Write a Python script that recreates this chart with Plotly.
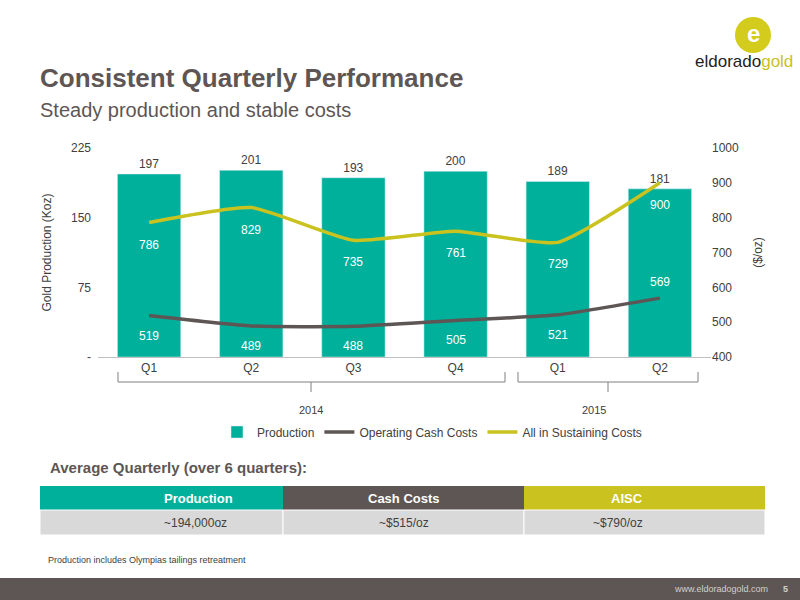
import plotly.graph_objects as go

quarters = ["Q1", "Q2", "Q3", "Q4", "Q1", "Q2"]
keys = ["2014 Q1", "2014 Q2", "2014 Q3", "2014 Q4", "2015 Q1", "2015 Q2"]
production = [197, 201, 193, 200, 189, 181]
cash_costs = [519, 489, 488, 505, 521, 569]
aisc = [786, 829, 735, 761, 729, 900]
years = ["2014", "2015"]
table_head = ["Production", "Cash Costs", "AISC"]
table_vals = ["~194,000oz", "~$515/oz", "~$790/oz"]

TEAL = "#00b09b"
GREY = "#5e5654"
YELLOW = "#c9c21f"
FONT = "Liberation Sans"

fig = go.Figure()
fig.add_trace(go.Bar(x=keys, y=production, name="Production", marker_color=TEAL, width=0.62,
                     text=production, textposition="outside", textfont=dict(color="#404040", size=12),
                     cliponaxis=False))
fig.add_trace(go.Scatter(x=keys, y=cash_costs, name="Operating Cash Costs", yaxis="y2", mode="lines",
                         line=dict(color=GREY, width=3.5, shape="spline", smoothing=0.5)))
fig.add_trace(go.Scatter(x=keys, y=aisc, name="All in Sustaining Costs", yaxis="y2", mode="lines",
                         line=dict(color=YELLOW, width=3.5, shape="spline", smoothing=0.5)))

ann = []
for i, k in enumerate(keys):
    ann.append(dict(x=k, y=aisc[i], yref="y2", text=str(aisc[i]), showarrow=False, yshift=-22,
                    font=dict(color="white", size=12)))
    ys = 16 if i == 5 else -20
    ann.append(dict(x=k, y=cash_costs[i], yref="y2", text=str(cash_costs[i]), showarrow=False, yshift=ys,
                    font=dict(color="white", size=12)))

# year brackets
shapes = []
for x0, x1, xm, yr in [(118, 505, 311, years[0]), (518, 698, 608, years[1])]:
    px0, px1, pm = x0 / 800, x1 / 800, xm / 800
    yb = 1 - 382 / 600
    shapes.append(dict(type="path", xref="paper", yref="paper",
                       path=f"M {px0},{1-372/600} L {px0},{yb} L {px1},{yb} L {px1},{1-372/600} M {pm},{yb} L {pm},{1-392/600}",
                       line=dict(color="#808080", width=1)))
    ann.append(dict(x=pm, y=1 - 410 / 600, xref="paper", yref="paper", text=yr, showarrow=False,
                    yanchor="middle", font=dict(size=11, color="#404040")))

# table
cols = [(40, 283, TEAL), (283, 524, GREY), (524, 765, YELLOW)]
for (x0, x1, c), h, v in zip(cols, table_head, table_vals):
    shapes.append(dict(type="rect", xref="paper", yref="paper", x0=x0 / 800, x1=x1 / 800,
                       y0=1 - 510 / 600, y1=1 - 486 / 600, fillcolor=c, line_width=0))
    shapes.append(dict(type="rect", xref="paper", yref="paper", x0=x0 / 800, x1=x1 / 800,
                       y0=1 - 535 / 600, y1=1 - 510 / 600, fillcolor="#d9d9d9", line=dict(color="white", width=1)))
    ann.append(dict(x=(x0 + x1) / 1600, y=1 - 498 / 600, xref="paper", yref="paper", text=f"<b>{h}</b>",
                    showarrow=False, yanchor="middle", font=dict(color="white", size=13)))
    ann.append(dict(x=(x0 + x1) / 1600, y=1 - 523 / 600, xref="paper", yref="paper", text=v,
                    showarrow=False, yanchor="middle", font=dict(color="#404040", size=12)))

# footer bar
shapes.append(dict(type="rect", xref="paper", yref="paper", x0=0, x1=1, y0=0, y1=22 / 600,
                   fillcolor=GREY, line_width=0))
# logo circle
shapes.append(dict(type="circle", xref="paper", yref="paper", x0=735 / 800, x1=771 / 800,
                   y0=1 - 53 / 600, y1=1 - 17 / 600, fillcolor="#d4cc1c", line_width=0))

texts = [
    (38, 78, "<b>Consistent Quarterly Performance</b>", 26, GREY, "left"),
    (38, 110, "Steady production and stable costs", 20, GREY, "left"),
    (48, 467, "<b>Average Quarterly (over 6 quarters):</b>", 15, GREY, "left"),
    (46, 560, "Production includes Olympias tailings retreatment", 9, "#404040", "left"),
    (753, 33, "<b>e</b>", 24, "white", "center"),
    (795, 62, "<span style='color:#222'>eldorado</span><span style='color:#c9c21f'>gold</span>", 17, GREY, "right"),
    (770, 589, "www.eldoradogold.com", 9, "#d0d0d0", "right"),
    (790, 589, "<b>5</b>", 9, "#d0d0d0", "right"),
]
for x, y, t, s, c, a in texts:
    ann.append(dict(x=x / 800, y=1 - y / 600, xref="paper", yref="paper", text=t, showarrow=False,
                    xanchor=a, yanchor="middle", font=dict(size=s, color=c)))

fig.update_layout(
    width=800, height=600, margin=dict(l=0, r=0, t=0, b=0, autoexpand=False),
    plot_bgcolor="white", paper_bgcolor="white",
    font=dict(family=FONT, color="#404040", size=12),
    bargap=0.4, showlegend=True,
    xaxis=dict(domain=[98 / 800, 711 / 800], tickvals=keys, ticktext=quarters, showline=True,
               linecolor="#bfbfbf", ticks="", tickfont=dict(size=12), automargin=False),
    yaxis=dict(domain=[1 - 357 / 600, 1 - 148 / 600], range=[0, 225], tickvals=[0, 75, 150, 225],
               ticktext=["-", "75", "150", "225"], showgrid=False, zeroline=False, automargin=False,
               ticklabelstandoff=6,
               title=dict(text="Gold Production (Koz)", font=dict(size=12), standoff=16)),
    yaxis2=dict(overlaying="y", side="right", range=[400, 1000], dtick=100, showgrid=False,
                title=dict(text="($/oz)", font=dict(size=12)), zeroline=False, automargin=False),
    legend=dict(orientation="h", x=0.54, xanchor="center", y=1 - 432 / 600, yanchor="middle",
                font=dict(size=12)),
    annotations=ann, shapes=shapes,
)

fig.write_html("out.html", config={"displayModeBar": False},
               post_script="document.body.style.margin='0';")
